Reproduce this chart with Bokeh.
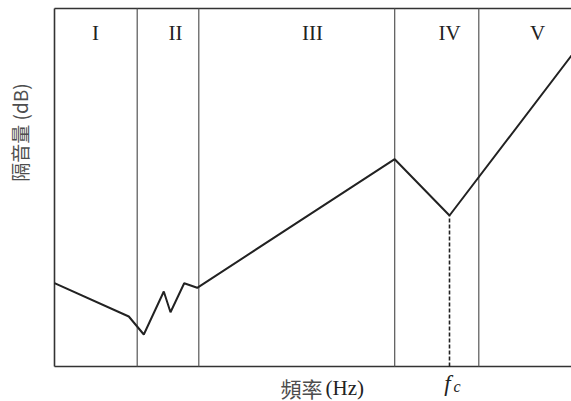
from bokeh.plotting import figure
from bokeh.models import Range1d
from bokeh.core.properties import value
from bokeh.embed import file_html
from bokeh.resources import INLINE

# ---- data (arbitrary units: frequency on x, sound insulation on y) ----
curve_x = [0, 74.3, 89.3, 109.3, 116, 129.7, 142.7, 340.2, 395, 517]
curve_y = [83.3, 50, 32, 75, 54.3, 83.3, 78.7, 207.3, 151, 311]

region_bounds = [82.7, 144.3, 340.2, 424.3]
region_labels = ["I", "II", "III", "IV", "V"]
region_label_x = [41, 121, 258, 395, 483]

fc_x = 395
fc_y = 151

x_max = 517
y_max = 358

ylabel = "隔音量 (dB)"
xlabel_cjk = "頻率"
xlabel_unit = "(Hz)"

p = figure(width=571, height=401, output_backend="svg", toolbar_location=None,
           x_range=Range1d(-54, 517), y_range=Range1d(-35, 366),
           min_border=0, min_border_left=0, min_border_right=0,
           min_border_top=0, min_border_bottom=0)
p.axis.visible = False
p.grid.visible = False
p.outline_line_color = None
p.background_fill_color = "white"
p.border_fill_color = "white"

# frame lines (left, bottom, top)
p.segment(x0=[0, 0, 0], y0=[0, 0, y_max], x1=[0, x_max, x_max], y1=[y_max, 0, y_max],
          line_color="#333333", line_width=1.6)

# region boundaries
p.segment(x0=region_bounds, y0=[0] * len(region_bounds),
          x1=region_bounds, y1=[y_max] * len(region_bounds),
          line_color="#555555", line_width=1.2)

# dashed line at critical frequency
p.segment(x0=[fc_x], y0=[0], x1=[fc_x], y1=[fc_y],
          line_color="#222222", line_width=1.6, line_dash="4 2")

# curve
p.line(curve_x, curve_y, line_color="#222222", line_width=2)

# region labels
p.text(x=region_label_x, y=[333.5] * len(region_labels), text=region_labels,
       text_font=value("Liberation Serif"), text_font_size="21px",
       text_align="center", text_baseline="middle", text_color="#222222")

# y-axis label
p.text(x=[-35], y=[234], text=[ylabel], angle=1.5708,
       text_font=value("Noto Sans CJK TC"), text_font_size="19px",
       text_align="center", text_baseline="middle", text_color="#4d4d4d")

# x-axis label
p.text(x=[268], y=[-21], text=[xlabel_cjk],
       text_font=value("Noto Sans CJK TC"), text_font_size="21px",
       text_align="right", text_baseline="middle", text_color="#4d4d4d")
p.text(x=[271], y=[-21], text=[xlabel_unit],
       text_font=value("Liberation Serif"), text_font_size="21px",
       text_align="left", text_baseline="middle", text_color="#222222")

# f_c label
p.text(x=[fc_x - 2], y=[-17], text=["f"],
       text_font=value("Liberation Serif"), text_font_style="italic",
       text_font_size="23px", text_align="center", text_baseline="middle",
       text_color="#222222")
p.text(x=[fc_x + 4], y=[-20], text=["c"],
       text_font=value("Liberation Serif"), text_font_style="italic",
       text_font_size="16px", text_align="left", text_baseline="middle",
       text_color="#222222")

open("out.html", "w").write(file_html(p, INLINE))
